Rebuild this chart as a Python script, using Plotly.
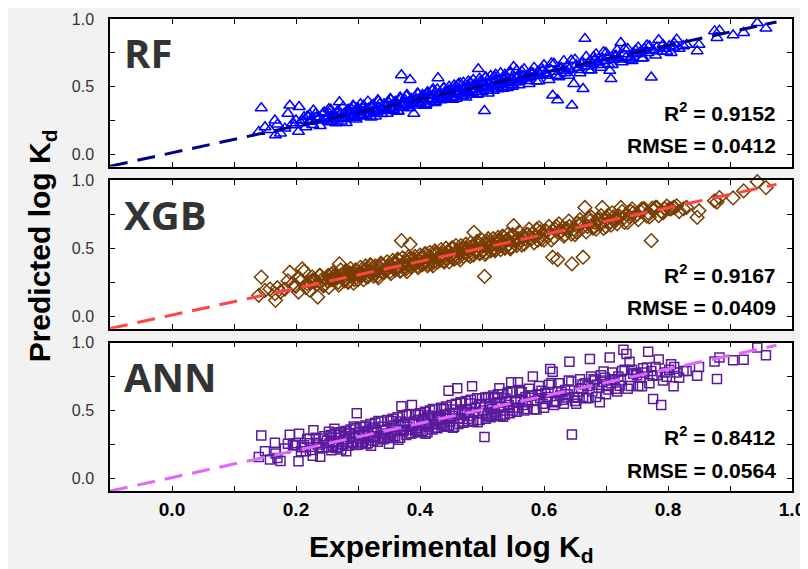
import plotly.graph_objects as go

# ---------------- data ----------------
models = ["RF", "XGB", "ANN"]
r2_text = ["0.9152", "0.9167", "0.8412"]
rmse_text = ["0.0412", "0.0409", "0.0564"]

# block 1: outliers and sparse regions
experimental_a = [
    0.140, 0.144, 0.150, 0.158, 0.166, 0.167, 0.170, 0.175, 0.182, 0.187, 0.190, 0.195, 0.198, 0.204, 0.205, 0.210, 0.213, 0.216, 0.222, 0.228, 0.235, 0.242,
    0.250, 0.254, 0.258, 0.262, 0.266, 0.270, 0.274, 0.278, 0.282, 0.286, 0.290, 0.294, 0.298, 0.302, 0.306, 0.310, 0.314, 0.318, 0.322, 0.326, 0.330, 0.335, 0.340, 0.345, 0.350,
    0.354, 0.358, 0.362, 0.366, 0.370, 0.373, 0.376, 0.380, 0.384, 0.387, 0.390, 0.394, 0.398, 0.402, 0.406, 0.410, 0.414, 0.418, 0.422, 0.426, 0.429, 0.432, 0.436, 0.440, 0.443, 0.446, 0.449, 0.452,
    0.456, 0.460, 0.464, 0.468, 0.472, 0.476, 0.480, 0.484, 0.487, 0.490, 0.494, 0.498, 0.502, 0.504, 0.508, 0.512, 0.516, 0.520, 0.524, 0.528, 0.531, 0.535, 0.539, 0.543, 0.547, 0.551, 0.554, 0.558,
    0.562, 0.566, 0.570, 0.574, 0.578, 0.582, 0.586, 0.590, 0.594, 0.598, 0.602, 0.606, 0.610, 0.614, 0.618, 0.622, 0.626, 0.630, 0.634, 0.638, 0.641, 0.645, 0.648, 0.652, 0.656,
    0.660, 0.663, 0.666, 0.670, 0.674, 0.678, 0.682, 0.686, 0.690, 0.694, 0.698, 0.702, 0.706, 0.708, 0.712, 0.716, 0.720, 0.724, 0.728, 0.733, 0.738, 0.744,
    0.750, 0.756, 0.762, 0.768, 0.773, 0.776, 0.782, 0.789, 0.795, 0.802, 0.809, 0.814, 0.825, 0.847,
    0.850, 0.875, 0.879, 0.883, 0.905, 0.922, 0.944, 0.958,
]
pred_rf_a = [
    0.166, 0.341, 0.200, 0.180, 0.250, 0.140, 0.220, 0.154, 0.190, 0.300, 0.360, 0.230, 0.215, 0.166, 0.350, 0.250, 0.275, 0.200, 0.240, 0.324, 0.260, 0.250,
    0.270, 0.300, 0.250, 0.290, 0.310, 0.385, 0.270, 0.300, 0.320, 0.290, 0.330, 0.280, 0.340, 0.310, 0.290, 0.350, 0.320, 0.300, 0.360, 0.330, 0.310, 0.370, 0.340, 0.320, 0.380,
    0.360, 0.340, 0.380, 0.350, 0.585, 0.370, 0.400, 0.360, 0.550, 0.390, 0.300, 0.410, 0.380, 0.420, 0.400, 0.370, 0.430, 0.410, 0.440, 0.400, 0.563, 0.450, 0.420, 0.460, 0.430, 0.470, 0.440, 0.420,
    0.460, 0.440, 0.480, 0.450, 0.490, 0.470, 0.500, 0.460, 0.510, 0.480, 0.630, 0.500, 0.520, 0.320, 0.490, 0.530, 0.500, 0.540, 0.510, 0.550, 0.520, 0.560, 0.530, 0.500, 0.550, 0.646, 0.530, 0.570,
    0.550, 0.580, 0.560, 0.590, 0.570, 0.600, 0.580, 0.610, 0.590, 0.620, 0.600, 0.580, 0.630, 0.434, 0.610, 0.400, 0.640, 0.620, 0.600, 0.650, 0.630, 0.360, 0.520, 0.660, 0.640,
    0.670, 0.483, 0.854, 0.650, 0.690, 0.670, 0.700, 0.680, 0.660, 0.710, 0.690, 0.720, 0.617, 0.556, 0.700, 0.730, 0.710, 0.824, 0.740, 0.720, 0.700, 0.750,
    0.740, 0.760, 0.780, 0.750, 0.568, 0.770, 0.790, 0.760, 0.780, 0.800, 0.790, 0.849, 0.800, 0.763,
    0.810, 0.910, 0.861, 0.915, 0.880, 0.898, 0.971, 0.930,
]
pred_xgb_a = [
    0.154, 0.288, 0.190, 0.200, 0.166, 0.117, 0.210, 0.180, 0.200, 0.260, 0.324, 0.240, 0.227, 0.178, 0.280, 0.349, 0.330, 0.210, 0.250, 0.260, 0.141, 0.270,
    0.260, 0.290, 0.270, 0.300, 0.280, 0.385, 0.300, 0.260, 0.310, 0.320, 0.300, 0.270, 0.330, 0.320, 0.300, 0.340, 0.290, 0.330, 0.350, 0.310, 0.340, 0.360, 0.320, 0.350, 0.370,
    0.370, 0.350, 0.390, 0.360, 0.556, 0.380, 0.360, 0.400, 0.530, 0.370, 0.420, 0.390, 0.410, 0.380, 0.430, 0.400, 0.440, 0.420, 0.400, 0.450, 0.430, 0.410, 0.460, 0.440, 0.420, 0.470, 0.450, 0.430,
    0.450, 0.480, 0.460, 0.490, 0.470, 0.500, 0.480, 0.510, 0.617, 0.490, 0.520, 0.500, 0.480, 0.293, 0.530, 0.510, 0.540, 0.500, 0.530, 0.550, 0.520, 0.540, 0.560, 0.530, 0.510, 0.666, 0.550, 0.570,
    0.560, 0.590, 0.570, 0.600, 0.580, 0.610, 0.590, 0.560, 0.620, 0.600, 0.630, 0.590, 0.610, 0.434, 0.640, 0.417, 0.620, 0.650, 0.600, 0.630, 0.660, 0.385, 0.640, 0.620, 0.670,
    0.680, 0.434, 0.800, 0.660, 0.700, 0.650, 0.690, 0.710, 0.680, 0.800, 0.700, 0.720, 0.690, 0.670, 0.730, 0.710, 0.740, 0.800, 0.720, 0.750, 0.730, 0.760,
    0.750, 0.770, 0.790, 0.760, 0.556, 0.780, 0.800, 0.770, 0.790, 0.790, 0.800, 0.812, 0.790, 0.727,
    0.776, 0.849, 0.840, 0.873, 0.870, 0.922, 0.990, 0.946,
]
pred_ann_a = [
    0.158, 0.317, 0.200, 0.140, 0.263, 0.183, 0.151, 0.129, 0.220, 0.256, 0.322, 0.244, 0.244, 0.127, 0.329, 0.230, 0.244, 0.200, 0.260, 0.354, 0.250, 0.230,
    0.280, 0.260, 0.300, 0.366, 0.270, 0.320, 0.250, 0.310, 0.290, 0.330, 0.270, 0.300, 0.480, 0.340, 0.290, 0.320, 0.350, 0.300, 0.360, 0.310, 0.340, 0.300, 0.380, 0.330, 0.256,
    0.340, 0.390, 0.360, 0.400, 0.532, 0.350, 0.410, 0.380, 0.360, 0.541, 0.420, 0.370, 0.430, 0.390, 0.440, 0.410, 0.380, 0.450, 0.420, 0.400, 0.460, 0.430, 0.410, 0.470, 0.440, 0.646, 0.420, 0.460,
    0.480, 0.663, 0.440, 0.500, 0.470, 0.510, 0.460, 0.678, 0.490, 0.520, 0.480, 0.540, 0.500, 0.305, 0.470, 0.550, 0.510, 0.490, 0.560, 0.663, 0.530, 0.500, 0.570, 0.540, 0.707, 0.520, 0.560, 0.707,
    0.580, 0.540, 0.600, 0.560, 0.610, 0.751, 0.570, 0.620, 0.590, 0.550, 0.630, 0.600, 0.805, 0.785, 0.560, 0.640, 0.610, 0.580, 0.650, 0.620, 0.859, 0.324, 0.600, 0.550, 0.640,
    0.660, 0.600, 0.700, 0.680, 0.878, 0.640, 0.720, 0.690, 0.560, 0.710, 0.740, 0.680, 0.890, 0.700, 0.730, 0.660, 0.750, 0.720, 0.946, 0.915, 0.859, 0.770,
    0.760, 0.740, 0.780, 0.932, 0.790, 0.585, 0.760, 0.541, 0.780, 0.800, 0.678, 0.780, 0.790, 0.756,
    0.820, 0.860, 0.732, 0.890, 0.870, 0.873, 0.963, 0.907,
]

# block 2: the dense central band
experimental_b = [
    0.200, 0.208, 0.218, 0.226, 0.232, 0.238, 0.246, 0.252, 0.256, 0.260,
    0.264, 0.268, 0.272, 0.276, 0.280, 0.284, 0.288, 0.292, 0.296, 0.300,
    0.304, 0.308, 0.312, 0.316, 0.320, 0.324, 0.328, 0.332, 0.337, 0.342,
    0.347, 0.352, 0.356, 0.360, 0.364, 0.368, 0.372, 0.378, 0.382, 0.386,
    0.392, 0.396, 0.400, 0.404, 0.408, 0.412, 0.416, 0.420, 0.424, 0.428,
    0.434, 0.438, 0.442, 0.447, 0.451, 0.455, 0.458, 0.462, 0.466, 0.470,
    0.474, 0.478, 0.482, 0.486, 0.492, 0.496, 0.500, 0.506, 0.510, 0.514,
    0.518, 0.522, 0.526, 0.530, 0.533, 0.537, 0.541, 0.545, 0.549, 0.556,
    0.560, 0.568, 0.576, 0.584, 0.592, 0.600, 0.608, 0.616, 0.624, 0.632,
    0.640, 0.650, 0.658, 0.668, 0.676, 0.684, 0.692, 0.700, 0.710, 0.718,
    0.726, 0.735, 0.742, 0.752, 0.760, 0.770, 0.780, 0.792, 0.805, 0.818,
]
pred_rf_b = [
    0.250, 0.230, 0.280, 0.250, 0.300, 0.270, 0.310, 0.240, 0.330, 0.280,
    0.230, 0.320, 0.300, 0.350, 0.260, 0.330, 0.310, 0.360, 0.270, 0.340,
    0.370, 0.280, 0.330, 0.390, 0.300, 0.360, 0.280, 0.400, 0.330, 0.370,
    0.300, 0.410, 0.330, 0.390, 0.320, 0.420, 0.350, 0.430, 0.340, 0.410,
    0.360, 0.450, 0.370, 0.440, 0.360, 0.460, 0.390, 0.470, 0.380, 0.480,
    0.400, 0.490, 0.410, 0.500, 0.420, 0.510, 0.410, 0.520, 0.430, 0.530,
    0.420, 0.540, 0.440, 0.550, 0.440, 0.560, 0.460, 0.570, 0.450, 0.580,
    0.470, 0.590, 0.480, 0.600, 0.490, 0.590, 0.490, 0.610, 0.500, 0.620,
    0.510, 0.630, 0.520, 0.640, 0.540, 0.660, 0.550, 0.670, 0.570, 0.690,
    0.580, 0.700, 0.600, 0.720, 0.620, 0.740, 0.640, 0.750, 0.660, 0.770,
    0.680, 0.780, 0.690, 0.790, 0.710, 0.800, 0.730, 0.810, 0.750, 0.780,
]
pred_xgb_b = [
    0.220, 0.260, 0.240, 0.290, 0.260, 0.300, 0.230, 0.300, 0.270, 0.320,
    0.290, 0.250, 0.340, 0.290, 0.330, 0.250, 0.350, 0.300, 0.340, 0.270,
    0.360, 0.310, 0.370, 0.290, 0.380, 0.320, 0.370, 0.300, 0.390, 0.320,
    0.400, 0.330, 0.410, 0.340, 0.420, 0.330, 0.430, 0.350, 0.440, 0.360,
    0.440, 0.370, 0.450, 0.380, 0.460, 0.370, 0.470, 0.390, 0.480, 0.400,
    0.490, 0.410, 0.500, 0.400, 0.500, 0.420, 0.520, 0.430, 0.520, 0.440,
    0.530, 0.450, 0.540, 0.450, 0.550, 0.460, 0.560, 0.470, 0.570, 0.480,
    0.570, 0.490, 0.580, 0.490, 0.590, 0.500, 0.600, 0.500, 0.600, 0.520,
    0.620, 0.530, 0.640, 0.540, 0.650, 0.560, 0.660, 0.580, 0.680, 0.590,
    0.700, 0.600, 0.710, 0.620, 0.730, 0.640, 0.740, 0.660, 0.760, 0.680,
    0.770, 0.690, 0.790, 0.710, 0.790, 0.730, 0.800, 0.760, 0.790, 0.770,
]
pred_ann_b = [
    0.260, 0.200, 0.290, 0.210, 0.300, 0.220, 0.310, 0.230, 0.320, 0.240,
    0.330, 0.230, 0.340, 0.250, 0.350, 0.240, 0.360, 0.260, 0.370, 0.250,
    0.380, 0.270, 0.390, 0.260, 0.400, 0.280, 0.410, 0.270, 0.420, 0.290,
    0.430, 0.300, 0.440, 0.310, 0.450, 0.300, 0.460, 0.320, 0.470, 0.330,
    0.470, 0.340, 0.480, 0.350, 0.490, 0.340, 0.500, 0.360, 0.510, 0.370,
    0.520, 0.380, 0.530, 0.390, 0.540, 0.380, 0.550, 0.400, 0.560, 0.410,
    0.570, 0.420, 0.580, 0.420, 0.590, 0.430, 0.590, 0.440, 0.600, 0.450,
    0.610, 0.460, 0.620, 0.460, 0.620, 0.470, 0.630, 0.480, 0.640, 0.490,
    0.650, 0.500, 0.660, 0.510, 0.680, 0.520, 0.690, 0.540, 0.700, 0.550,
    0.720, 0.570, 0.730, 0.590, 0.750, 0.600, 0.760, 0.620, 0.780, 0.640,
    0.790, 0.660, 0.800, 0.680, 0.810, 0.700, 0.820, 0.720, 0.840, 0.740,
]

# block 3: more of the dense central band
experimental_c = [
    0.222, 0.227, 0.233, 0.239, 0.244, 0.249, 0.253, 0.257, 0.261, 0.265,
    0.269, 0.273, 0.277, 0.281, 0.285, 0.289, 0.293, 0.297, 0.301, 0.305,
    0.309, 0.313, 0.317, 0.321, 0.325, 0.329, 0.333, 0.338, 0.343, 0.348,
    0.353, 0.357, 0.361, 0.365, 0.369, 0.374, 0.379, 0.383, 0.388, 0.393,
    0.397, 0.401, 0.405, 0.409, 0.413, 0.417, 0.421, 0.425, 0.431, 0.435,
    0.439, 0.444, 0.448, 0.453, 0.457, 0.461, 0.465, 0.469, 0.473, 0.477,
    0.481, 0.485, 0.489, 0.493, 0.497, 0.501, 0.505, 0.509, 0.513, 0.517,
    0.521, 0.525, 0.529, 0.534, 0.538, 0.542, 0.546, 0.550, 0.555, 0.559,
    0.564, 0.572, 0.580, 0.588, 0.596, 0.604, 0.612, 0.620, 0.628, 0.636,
    0.644, 0.654, 0.662, 0.672, 0.680, 0.688, 0.696, 0.704, 0.714, 0.722,
    0.730, 0.740, 0.748, 0.758, 0.766, 0.775, 0.785, 0.798, 0.810, 0.830,
]
pred_rf_c = [
    0.292, 0.217, 0.273, 0.209, 0.304, 0.259, 0.333, 0.237, 0.291, 0.265,
    0.319, 0.243, 0.297, 0.231, 0.325, 0.279, 0.353, 0.257, 0.311, 0.285,
    0.359, 0.283, 0.337, 0.271, 0.365, 0.319, 0.393, 0.298, 0.353, 0.328,
    0.403, 0.327, 0.381, 0.315, 0.409, 0.364, 0.439, 0.343, 0.398, 0.373,
    0.447, 0.371, 0.425, 0.359, 0.453, 0.407, 0.481, 0.385, 0.441, 0.415,
    0.489, 0.414, 0.468, 0.403, 0.497, 0.451, 0.525, 0.429, 0.483, 0.457,
    0.531, 0.455, 0.509, 0.443, 0.537, 0.491, 0.565, 0.469, 0.523, 0.497,
    0.571, 0.495, 0.549, 0.484, 0.578, 0.532, 0.606, 0.510, 0.565, 0.539,
    0.614, 0.542, 0.600, 0.538, 0.636, 0.594, 0.672, 0.580, 0.638, 0.616,
    0.694, 0.624, 0.682, 0.622, 0.720, 0.678, 0.756, 0.664, 0.724, 0.702,
    0.780, 0.710, 0.768, 0.708, 0.806, 0.765, 0.845, 0.758, 0.820, 0.810,
]
pred_xgb_c = [
    0.192, 0.267, 0.233, 0.299, 0.224, 0.279, 0.213, 0.307, 0.271, 0.285,
    0.229, 0.303, 0.267, 0.331, 0.255, 0.309, 0.243, 0.337, 0.301, 0.315,
    0.269, 0.343, 0.307, 0.371, 0.295, 0.349, 0.283, 0.378, 0.343, 0.358,
    0.313, 0.387, 0.351, 0.415, 0.339, 0.394, 0.329, 0.423, 0.388, 0.403,
    0.357, 0.431, 0.395, 0.459, 0.383, 0.437, 0.371, 0.465, 0.431, 0.445,
    0.399, 0.474, 0.438, 0.503, 0.427, 0.481, 0.415, 0.509, 0.473, 0.487,
    0.441, 0.515, 0.479, 0.543, 0.467, 0.521, 0.455, 0.549, 0.513, 0.527,
    0.481, 0.555, 0.519, 0.584, 0.508, 0.562, 0.496, 0.590, 0.555, 0.569,
    0.524, 0.602, 0.570, 0.638, 0.566, 0.624, 0.562, 0.660, 0.628, 0.646,
    0.604, 0.684, 0.652, 0.722, 0.650, 0.708, 0.646, 0.744, 0.714, 0.732,
    0.690, 0.770, 0.738, 0.790, 0.736, 0.795, 0.740, 0.810, 0.800, 0.800,
]
pred_ann_c = [
    0.292, 0.167, 0.263, 0.159, 0.294, 0.229, 0.343, 0.207, 0.271, 0.225,
    0.339, 0.213, 0.307, 0.201, 0.335, 0.269, 0.383, 0.247, 0.311, 0.265,
    0.379, 0.253, 0.347, 0.241, 0.375, 0.309, 0.423, 0.288, 0.353, 0.308,
    0.423, 0.297, 0.391, 0.285, 0.419, 0.354, 0.469, 0.333, 0.398, 0.353,
    0.467, 0.341, 0.435, 0.329, 0.463, 0.397, 0.511, 0.375, 0.441, 0.395,
    0.509, 0.384, 0.478, 0.373, 0.507, 0.441, 0.555, 0.419, 0.483, 0.437,
    0.551, 0.425, 0.519, 0.413, 0.547, 0.481, 0.595, 0.459, 0.523, 0.477,
    0.591, 0.465, 0.559, 0.454, 0.588, 0.522, 0.636, 0.500, 0.565, 0.519,
    0.634, 0.512, 0.610, 0.508, 0.646, 0.584, 0.702, 0.570, 0.638, 0.596,
    0.714, 0.594, 0.692, 0.592, 0.730, 0.668, 0.786, 0.654, 0.724, 0.682,
    0.800, 0.680, 0.778, 0.678, 0.816, 0.755, 0.875, 0.748, 0.820, 0.790,
]

fit_x = [-0.10, 0.975]
fit_rf = [-0.090, 0.978]
fit_xgb = [-0.090, 0.970]
fit_ann = [-0.093, 0.980]

experimental = experimental_a + experimental_b + experimental_c
preds = [
    pred_rf_a + pred_rf_b + pred_rf_c,
    pred_xgb_a + pred_xgb_b + pred_xgb_c,
    pred_ann_a + pred_ann_b + pred_ann_c,
]
fits = [fit_rf, fit_xgb, fit_ann]

# ---------------- styling ----------------
marker_symbols = ["triangle-up-open", "diamond-open", "square-open"]
marker_sizes = [10.5, 10.5, 9]
marker_colors = ["#0000ff", "#7a3d00", "#5b1a9e"]
line_colors = ["#00008b", "#ff4444", "#e066ff"]

H_PLOT = 480.0
domains = [
    [330 / H_PLOT, 1.0],
    [165 / H_PLOT, 316 / H_PLOT],
    [0.0, 151 / H_PLOT],
]

fig = go.Figure()
for i in range(3):
    xa = "x" if i == 0 else f"x{i+1}"
    ya = "y" if i == 0 else f"y{i+1}"
    fig.add_trace(go.Scatter(
        x=experimental, y=preds[i], mode="markers", xaxis=xa, yaxis=ya,
        marker=dict(symbol=marker_symbols[i], size=marker_sizes[i], color=marker_colors[i],
                    line=dict(width=1.5, color=marker_colors[i])),
        showlegend=False, cliponaxis=False,
    ))
    fig.add_trace(go.Scatter(
        x=fit_x, y=fits[i], mode="lines", xaxis=xa, yaxis=ya,
        line=dict(color=line_colors[i], width=3, dash="18px,10px"),
        showlegend=False,
    ))

axis_font = "Liberation Sans, Arial, sans-serif"
layout = dict(
    width=808, height=569,
    margin=dict(l=102, r=24, t=3, b=86),
    paper_bgcolor="#f2f2f2",
    plot_bgcolor="#ffffff",
    font=dict(family=axis_font, color="#000000"),
)
for i in range(3):
    xk = "xaxis" if i == 0 else f"xaxis{i+1}"
    yk = "yaxis" if i == 0 else f"yaxis{i+1}"
    xa = "x" if i == 0 else f"x{i+1}"
    ya = "y" if i == 0 else f"y{i+1}"
    layout[xk] = dict(
        range=[-0.1, 1.0], domain=[0, 1], anchor=ya,
        showgrid=False, zeroline=False,
        showline=True, mirror="allticks", linecolor="#000000", linewidth=1.5,
        ticks="inside", ticklen=5, tickwidth=1, tickcolor="#000000",
        tick0=0, dtick=0.2, tickformat=".1f",
        minor=dict(ticks="inside", ticklen=5, tickwidth=1, dtick=0.1, tick0=0, tickcolor="#000000"),
        showticklabels=(i == 2),
        tickfont=dict(family=axis_font, size=19, color="#000000", weight="bold"),
        ticklabelstandoff=0,
    )
    if i > 0:
        layout[xk]["matches"] = "x"
    layout[yk] = dict(
        range=[-0.092, 1.0], domain=domains[i], anchor=xa,
        showgrid=False, zeroline=False,
        showline=True, mirror="allticks", linecolor="#000000", linewidth=1.5,
        ticks="inside", ticklen=5, tickwidth=1, tickcolor="#000000",
        tick0=0, dtick=0.5, tickformat=".1f",
        minor=dict(ticks="inside", ticklen=5, tickwidth=1, dtick=0.25, tick0=0, tickcolor="#000000"),
        tickfont=dict(family=axis_font, size=16, color="#333333"),
        ticklabelstandoff=11,
    )
fig.update_layout(**layout)

annotations = []
for i in range(3):
    xa = "x" if i == 0 else f"x{i+1}"
    ya = "y" if i == 0 else f"y{i+1}"
    annotations.append(dict(
        text=f"<b>{models[i]}</b>", xref=f"{xa} domain", yref=f"{ya} domain",
        x=0.018, y=0.77, xanchor="left", yanchor="middle", showarrow=False,
        font=dict(family="Open Sans, sans-serif", size=40, color="#333333"),
    ))
    annotations.append(dict(
        text=f"<b>R<sup>2</sup> = {r2_text[i]}</b>", xref=f"{xa} domain", yref=f"{ya} domain",
        x=0.979, y=0.37, xanchor="right", yanchor="middle", showarrow=False,
        font=dict(family=axis_font, size=21, color="#000000"),
    ))
    annotations.append(dict(
        text=f"<b>RMSE = {rmse_text[i]}</b>", xref=f"{xa} domain", yref=f"{ya} domain",
        x=0.979, y=0.14, xanchor="right", yanchor="middle", showarrow=False,
        font=dict(family=axis_font, size=21, color="#000000"),
    ))

annotations.append(dict(
    text="<b>Experimental log K<sub>d</sub></b>", xref="paper", yref="paper",
    x=0.5, y=-0.122, xanchor="center", yanchor="middle", showarrow=False,
    font=dict(family=axis_font, size=30, color="#000000"),
))
annotations.append(dict(
    text="<b>Predicted log K<sub>d</sub></b>", xref="paper", yref="paper",
    x=-0.1, y=0.52, xanchor="center", yanchor="middle", showarrow=False, textangle=-90,
    font=dict(family=axis_font, size=30, color="#000000"),
))
fig.update_layout(annotations=annotations)

fig.write_html("out.html")
